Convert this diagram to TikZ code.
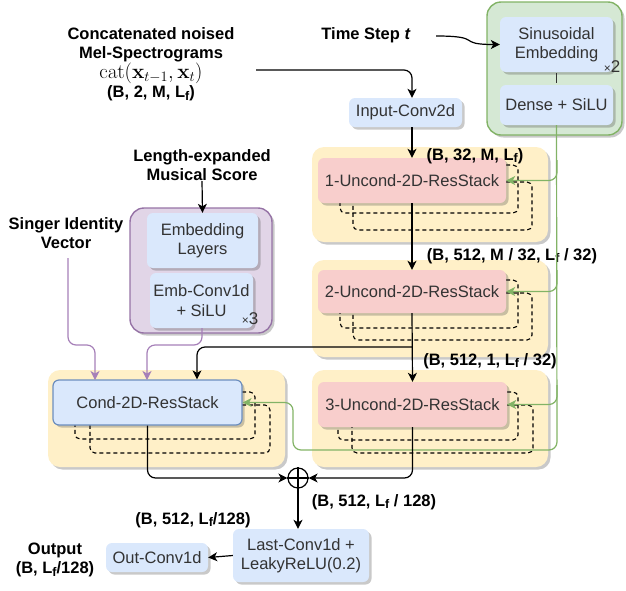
\documentclass[tikz,border=0pt]{standalone}
\usepackage[no-math]{fontspec}
\setmainfont{Liberation Sans}
\usetikzlibrary{arrows.meta,shadows,calc}
\definecolor{ylw}{HTML}{FFF0C8}
\definecolor{grnf}{HTML}{D5E8D4}
\definecolor{grnd}{HTML}{82B366}
\definecolor{purf}{HTML}{E1D5E7}
\definecolor{purd}{HTML}{9673A6}
\definecolor{purl}{HTML}{A680B8}
\definecolor{blf}{HTML}{DAE8FC}
\definecolor{bld}{HTML}{6C8EBF}
\definecolor{rdf}{HTML}{F8CECC}
\definecolor{txt}{HTML}{333333}
\newcommand\Lfx{L\raisebox{-0.3ex}{\fontsize{12.5}{13}\selectfont f}}
\begin{document}
\begin{tikzpicture}[x=1pt,y=-1pt,
  every node/.style={font=\fontsize{16.5}{19.5}\selectfont, inner sep=0pt},
  lbl/.style={font=\fontsize{16.5}{19.5}\selectfont\bfseries, align=center},
  shd/.style={drop shadow={shadow xshift=2.5pt,shadow yshift=-2.5pt,opacity=0.3,fill=black!70}},
  yc/.style={rounded corners=12, fill=ylw, shd},
  bbox/.style={rounded corners=6, fill=blf, shd, text=txt, align=center},
  rbox/.style={rounded corners=6, fill=rdf, shd, text=txt},
  arr/.style={-{Stealth[length=9pt,width=9pt,inset=2.5pt]}, line width=1.2pt},
  blk/.style={line width=1.2pt, rounded corners=8},
  dsh/.style={line width=1.1pt, dash pattern=on 4pt off 3pt, rounded corners=5},
  gline/.style={draw=grnd, line width=1.2pt, rounded corners=8},
  pline/.style={draw=purl, line width=1.2pt, rounded corners=8},
  mult/.style={text=txt},
]
\useasboundingbox (0,0) rectangle (626,590);
% containers
\node[rounded corners=14, fill=grnf, draw=grnd, line width=1.4pt, shd, minimum width=135, minimum height=133] (gc) at (554.5,68.5) {};
\node[rounded corners=14, fill=purf, draw=purd, line width=1.4pt, shd, minimum width=142, minimum height=125] (pc) at (201,270.5) {};
\node[yc, minimum width=236, minimum height=95] (y1) at (430,194.5) {};
\node[yc, minimum width=236, minimum height=97] (y2) at (430,308.5) {};
\node[yc, minimum width=236, minimum height=97] (y3) at (430,418.5) {};
\node[yc, minimum width=237, minimum height=97] (yc0) at (166.5,418.5) {};
% dashed loops
\draw[dsh] (506,165) -- (518,165) -- (518,213) -- (340,213) -- (340,203);
\draw[dsh] (506,182) -- (532,182) -- (532,230) -- (353,230) -- (353,203);
\draw[dsh] (506,280) -- (518,280) -- (518,328) -- (340,328) -- (340,313);
\draw[dsh] (506,293) -- (532,293) -- (532,340) -- (353,340) -- (353,313);
\draw[dsh] (507,392) -- (518,392) -- (518,440) -- (338,440) -- (338,427);
\draw[dsh] (507,405) -- (533,405) -- (533,453) -- (352,453) -- (352,427);
\draw[dsh] (242,392) -- (255,392) -- (255,439) -- (75,439) -- (75,425);
\draw[dsh] (242,405) -- (270,405) -- (270,453) -- (90,453) -- (90,425);
% boxes
\node[bbox, minimum width=113, minimum height=55] (sin) at (556.5,44.5) {Sinusoidal\\Embedding};
\node[bbox, minimum width=113, minimum height=40] (dense) at (556.5,105) {Dense + SiLU};
\node[mult] (x2) at (612,67) {{\fontsize{12}{14}\selectfont\texttimes}{\fontsize{17}{19}\selectfont 2}};
\node[bbox, minimum width=113, minimum height=29] (inp) at (405.5,112.5) {Input-Conv2d};
\node[rbox, minimum width=188, minimum height=45] (r1) at (412,180.5) {1-Uncond-2D-ResStack};
\node[rbox, minimum width=188, minimum height=43] (r2) at (412,291.5) {2-Uncond-2D-ResStack};
\node[rbox, minimum width=189, minimum height=45] (r3) at (412.5,404.5) {3-Uncond-2D-ResStack};
\node[bbox, draw=bld, line width=1.2pt, minimum width=189, minimum height=45] (cond) at (147.5,402.5) {Cond-2D-ResStack};
\node[bbox, minimum width=111, minimum height=55] (emb) at (202.5,240.5) {Embedding\\Layers};
\node[bbox, minimum width=103, minimum height=55] (ec) at (201.5,300.5) {Emb-Conv1d\\+ SiLU};
\node[mult] (x3) at (250,319) {{\fontsize{12}{14}\selectfont\texttimes}{\fontsize{17}{19}\selectfont 3}};
\node[bbox, minimum width=136, minimum height=53] (last) at (301,555.5) {Last-Conv1d +\\LeakyReLU(0.2)};
\node[bbox, minimum width=102, minimum height=29] (out) at (157,557.5) {Out-Conv1d};
\node[circle, draw, line width=1.2pt, minimum size=20, fill=white] (plus) at (298,478) {};
\draw[line width=1.2pt] (plus.north) -- (plus.south) (plus.west) -- (plus.east);
% texts
\node[lbl] (ctext) at (151,64) {Concatenated noised\\Mel-Spectrograms\\\mdseries{\fontsize{20}{20}\selectfont$\mathrm{cat}(\mathbf{x}_{t-1},\mathbf{x}_t)$}\\(B, 2, M, \Lfx)};
\node[lbl] (ts) at (366,35) {Time Step \textit{t}};
\node[lbl] (les) at (202,165) {Length-expanded\\Musical Score};
\node[lbl] (siv) at (66,233) {Singer Identity\\Vector};
\node[lbl] (l1) at (475,156) {(B, 32, M, \Lfx)};
\node[lbl] (l2) at (512,256) {(B, 512, M / 32, \Lfx{} / 32)};
\node[lbl] (l3) at (490,361) {(B, 512, 1, \Lfx{} / 32)};
\node[lbl] (l4) at (374,502) {(B, 512, \Lfx{} / 128)};
\node[lbl] (l5) at (193,520) {(B, 512, \Lfx/128)};
\node[lbl] (outl) at (55,560) {Output\\(B, \Lfx/128)};
% coordinates
\coordinate (c0) at (256,70);
\coordinate (tsa) at (436,36);
\coordinate (br) at (412,347);
\coordinate (sv) at (68,258);
% green lines
\draw[gline, -{Stealth[length=9pt,width=9pt,inset=2.5pt]}] (dense.south) -- (557,450) -- (293,450) -- (293,402.5) -- (cond.east);
\draw[gline, -{Stealth[length=9pt,width=9pt,inset=2.5pt]}] (557,160) |- (r1.east);
\draw[gline, -{Stealth[length=9pt,width=9pt,inset=2.5pt]}] (557,270) |- (r2.east);
\draw[gline, -{Stealth[length=9pt,width=9pt,inset=2.5pt]}] (557,385) |- (r3.east);
% purple lines
\draw[pline, -{Stealth[length=9pt,width=9pt,inset=2.5pt]}] (sv) -- (68,345) -- (95,345) -- (95,380);
\draw[pline, -{Stealth[length=9pt,width=9pt,inset=2.5pt]}] (ec.south -| 202,0) -- (202,345) -- (147,345) -- (147,380);
% black lines
\draw[arr, rounded corners=0] (les.south) -- (emb.north);
\draw[line width=1pt, black!80] (sin.south) ++(0,1) -- ($(dense.north)+(0,-2)$);
\draw[arr] (tsa) .. controls (485,36) and (455,44.5) .. (sin.west);
\draw[blk, arr] (c0) -| (inp.north -| r1.north);
\draw[arr] (inp.south -| r1.north) -- (r1.north);
\draw[arr] (r1.south) -- (r2.north);
\draw[arr] (r2.south) -- (r3.north);
\draw[blk, arr] (br) -- (197,347) -- (cond.north -| 197,0);
\draw[blk, arr] (r3.south) |- (plus.east);
\draw[blk, arr] (cond.south) |- (plus.west);
\draw[arr] (plus.south) -- (plus.south |- last.north);
\draw[arr] (last.west) -- (out.east);
\end{tikzpicture}
\end{document}
